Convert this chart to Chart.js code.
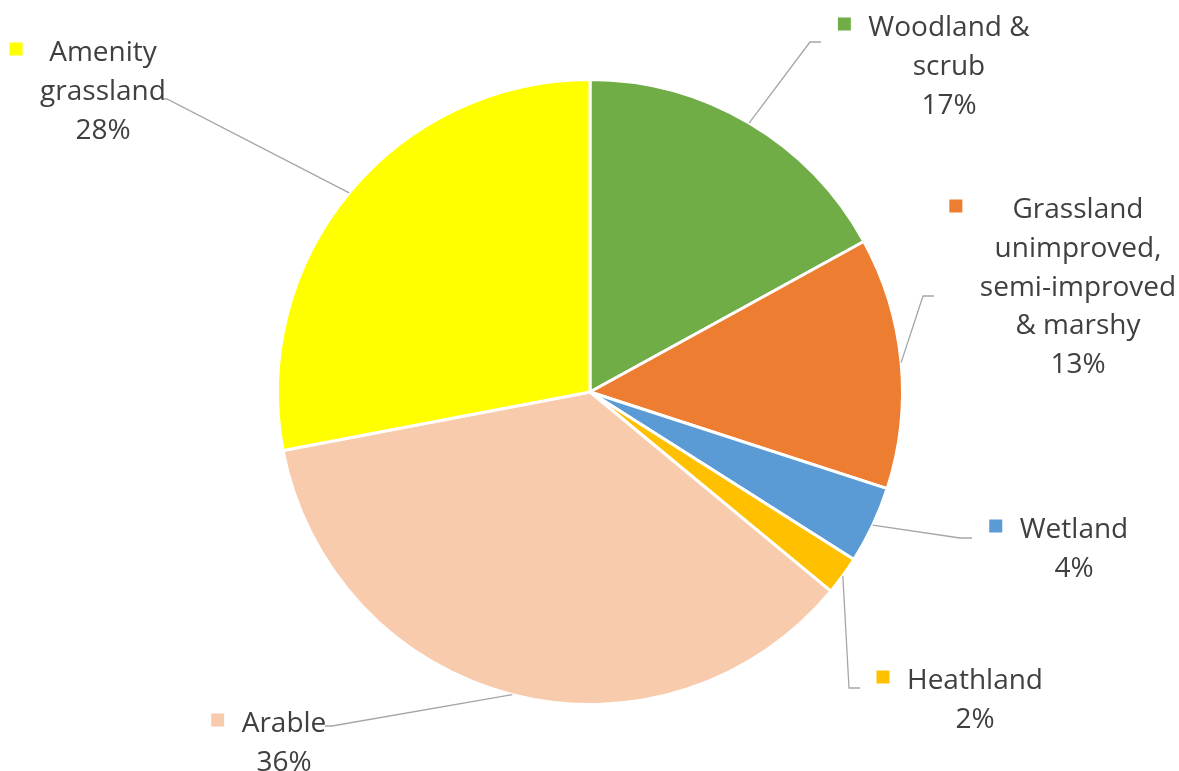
<!DOCTYPE html>
<html>
<head>
<meta charset="utf-8">
<script src="https://cdn.jsdelivr.net/npm/chart.js@4.4.1/dist/chart.umd.min.js"></script>
<style>
  html, body { margin: 0; padding: 0; background: #ffffff; }
  #wrap { width: 1179px; height: 771px; }
</style>
</head>
<body>
<div id="wrap"><canvas id="landcover" width="1179" height="771"></canvas></div>
<script>
// Land cover categories (multi-line label text) and their percentage shares
const categories = [
  ['Woodland &', 'scrub'],
  ['Grassland', 'unimproved,', 'semi-improved', '& marshy'],
  ['Wetland'],
  ['Heathland'],
  ['Arable'],
  ['Amenity', 'grassland']
];
const shares = [17, 13, 4, 2, 36, 28];
const sliceColors = ['#70AD47', '#ED7D31', '#5B9BD5', '#FFC000', '#F8CBAD', '#FFFF00'];

// Where each label block sits: centre x, first baseline, elbow of the leader line
const labelSpots = [
  { cx: 949,  base: 36,  hook: [821, 42],  elbow: [810, 42] },
  { cx: 1078, base: 218, hook: [934, 296], elbow: [923, 296] },
  { cx: 1074, base: 538, hook: [972, 538], elbow: [960, 538] },
  { cx: 975,  base: 689, hook: [860, 688], elbow: [849, 688] },
  { cx: 284,  base: 732, hook: [325, 726], elbow: [332, 726] },
  { cx: 103,  base: 61,  hook: [163, 99],  elbow: [167, 99] }
];

const FONT = '28px "Open Sans"';
const LINE_H = 38.8;

const calloutLabels = {
  id: 'calloutLabels',
  afterDatasetsDraw(chart) {
    const ctx = chart.ctx;
    const meta = chart.getDatasetMeta(0);
    ctx.save();
    meta.data.forEach((arc, i) => {
      const p = arc.getProps(['x', 'y', 'startAngle', 'endAngle', 'outerRadius'], true);
      const mid = (p.startAngle + p.endAngle) / 2;
      const ex = p.x + Math.cos(mid) * p.outerRadius;
      const ey = p.y + Math.sin(mid) * p.outerRadius;
      const spot = labelSpots[i];

      // leader line
      ctx.beginPath();
      ctx.strokeStyle = '#A6A6A6';
      ctx.lineWidth = 1.3;
      ctx.moveTo(spot.hook[0], spot.hook[1]);
      ctx.lineTo(spot.elbow[0], spot.elbow[1]);
      ctx.lineTo(ex, ey);
      ctx.stroke();

      // text block
      const lines = categories[i].concat([shares[i] + '%']);
      ctx.font = FONT;
      ctx.fillStyle = '#404040';
      ctx.textAlign = 'center';
      ctx.textBaseline = 'alphabetic';
      let maxW = 0;
      lines.forEach(t => { maxW = Math.max(maxW, ctx.measureText(t).width); });
      lines.forEach((t, k) => {
        ctx.fillText(t, spot.cx, spot.base + k * LINE_H);
      });

      // colour key square
      const left = spot.cx - maxW / 2;
      const size = 13;
      ctx.fillStyle = sliceColors[i];
      ctx.fillRect(left - 17.5 - size, spot.base - 12 - size / 2, size, size);
    });
    ctx.restore();
  }
};

new Chart(document.getElementById('landcover'), {
  type: 'pie',
  data: {
    labels: categories.map(c => c.join(' ')),
    datasets: [{
      data: shares,
      backgroundColor: sliceColors,
      borderColor: '#FFFFFF',
      borderWidth: 3
    }]
  },
  options: {
    responsive: false,
    animation: false,
    devicePixelRatio: 1,
    layout: { padding: { left: 276, right: 275, top: 78, bottom: 65 } },
    plugins: {
      legend: { display: false },
      tooltip: { enabled: false }
    }
  },
  plugins: [calloutLabels]
});
</script>
</body>
</html>
